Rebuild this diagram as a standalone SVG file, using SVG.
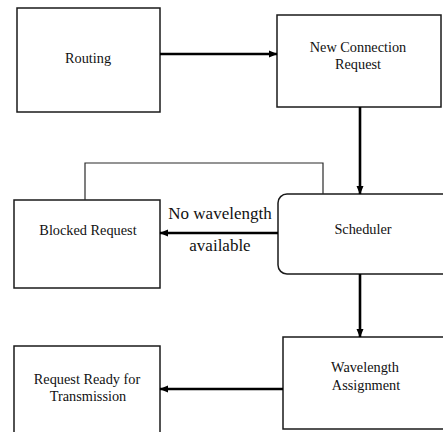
<svg xmlns="http://www.w3.org/2000/svg" width="443" height="432" viewBox="0 0 443 432">
<defs>
<style>
.box{fill:#fff;stroke:#1a1a1a;stroke-width:1.5}
.t{font-family:"Liberation Serif","Times New Roman",serif;font-size:14.3px;fill:#111;text-anchor:middle}
.lbl{font-family:"Liberation Serif","Times New Roman",serif;font-size:17px;fill:#111;text-anchor:middle}
.c{fill:none;stroke:#000;stroke-width:2.6}
.fb{fill:none;stroke:#2a2a2a;stroke-width:1.2}
</style>
<marker id="ah" markerUnits="userSpaceOnUse" markerWidth="9" markerHeight="8" refX="8" refY="4" orient="auto">
<path d="M0,0.5 L8.5,4 L0,7.5 z" fill="#000"/>
</marker>
</defs>
<rect width="443" height="432" fill="#fff"/>
<g id="routing"><rect class="box" x="17" y="8" width="143" height="104"/><text class="t" x="88" y="63">Routing</text></g>
<g id="new-connection"><rect class="box" x="277" y="15" width="164" height="92"/><text class="t" x="358" y="52">New Connection</text><text class="t" x="358" y="69">Request</text></g>
<g id="blocked"><rect class="box" x="14" y="200" width="146" height="88"/><text class="t" x="88" y="235">Blocked Request</text></g>
<g id="scheduler"><rect class="box" x="278" y="194" width="175" height="80" rx="9"/><text class="t" x="363" y="234">Scheduler</text></g>
<g id="wavelength"><rect class="box" x="283" y="337" width="170" height="92"/><text class="t" x="365" y="372">Wavelength</text><text class="t" x="366" y="390">Assignment</text></g>
<g id="ready"><rect class="box" x="14" y="346" width="146" height="100"/><text class="t" x="87" y="384">Request Ready for</text><text class="t" x="88" y="401">Transmission</text></g>
<g id="connectors">
<path class="c" d="M160,54 H277" marker-end="url(#ah)"/>
<path class="c" d="M360,107 V194" marker-end="url(#ah)"/>
<path class="c" d="M278,233 H160" marker-end="url(#ah)"/>
<path class="c" d="M360,274 V337" marker-end="url(#ah)"/>
<path class="c" d="M283,389 H160" marker-end="url(#ah)"/>
<path class="fb" d="M323,194 V163 H85 V200"/>
<text class="lbl" x="220" y="219">No wavelength</text>
<text class="lbl" x="220" y="251">available</text>
</g>
</svg>
